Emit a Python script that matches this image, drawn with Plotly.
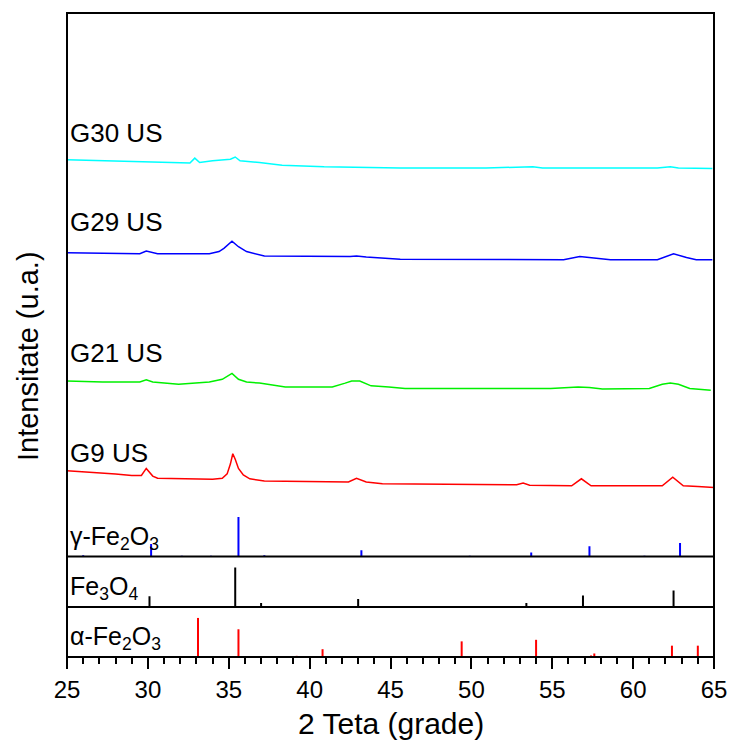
import plotly.graph_objects as go

# ---------------- data ----------------
# 2-theta values and intensities (a.u., stacked) of the measured patterns
g9_x = [25, 26, 27, 28, 29, 29.6, 29.9, 30.3, 30.6, 32, 34, 34.6, 34.9, 35.1, 35.25, 35.4, 35.6, 35.9, 36.3,
        37.2, 40.4, 42.4, 42.9, 43.5, 44.5, 48, 52.8, 53.2, 53.6, 56.2, 56.8, 57.4, 60, 61.8, 62.45, 63.1, 64, 65]
g9_y = [15.8, 15.6, 15.5, 15.2, 14.9, 14.9, 16.2, 14.8, 14.4, 14.3, 14.2, 14.4, 15.2, 17.0, 18.9, 17.9, 16.2, 15.0, 14.3,
        13.9, 13.7, 13.7, 14.4, 13.7, 13.4, 13.3, 13.2, 13.5, 13.1, 13.0, 14.3, 13.0, 13.0, 13.0, 14.6, 13.0, 12.9, 12.7]

g21_x = [25, 27.2, 29.5, 29.9, 30.3, 31.9, 33.8, 34.6, 35.2, 35.6, 36.1, 36.9, 38.5, 41.4, 42.2, 42.6, 43.1, 43.8,
         44.9, 45.9, 53, 54.9, 56.6, 57.3, 58.1, 61, 61.8, 62.3, 62.8, 63.5, 64.8]
g21_y = [32.3, 32.1, 32.1, 32.5, 32.1, 31.7, 32.1, 32.6, 33.7, 32.6, 32.1, 31.9, 31.2, 31.2, 31.9, 32.3, 32.3, 31.4,
         31.2, 30.9, 30.9, 30.9, 31.2, 31.1, 30.8, 30.9, 31.7, 31.9, 31.7, 30.9, 30.6]

g29_x = [25, 29.5, 29.9, 30.6, 33.8, 34.4, 34.7, 35.2, 35.6, 36.1, 37.2, 40.4, 42.5, 42.9, 43.5, 45.6, 50.9,
         55.7, 56.7, 57.5, 58.6, 61.5, 62.5, 63.3, 63.9, 64.9]
g29_y = [55.9, 55.7, 56.2, 55.7, 55.7, 56.1, 56.7, 58.0, 57.0, 56.1, 55.3, 55.2, 55.2, 55.3, 55.1, 54.7, 54.6,
         54.6, 55.2, 55.0, 54.6, 54.6, 55.7, 55.0, 54.6, 54.6]

g30_x = [25, 27.2, 29.8, 32.2, 32.6, 32.9, 33.2, 34.0, 35.1, 35.4, 35.7, 36.9, 38.3, 40.9, 45.6, 50.9, 53.8,
         54.4, 61.5, 62.3, 62.8, 64.9]
g30_y = [73.0, 72.8, 72.6, 72.3, 72.4, 73.3, 72.5, 72.8, 73.1, 73.5, 72.8, 72.5, 72.0, 71.7, 71.5, 71.5, 71.7,
         71.5, 71.5, 71.7, 71.5, 71.4]

sample_names = ["G30 US", "G29 US", "G21 US", "G9 US"]
sample_label_y = [78.0, 61.5, 37.5, 19.0]

# reference stick patterns: positions (2-theta) and relative intensities
gamma_pos = [26.0, 30.2, 32.1, 33.9, 35.6, 37.2, 43.2, 49.9, 53.7, 57.3, 60.7, 62.9]
gamma_int = [3, 32, 2, 2, 100, 3, 16, 2, 10, 26, 2, 34]

magn_pos = [30.1, 35.4, 37.0, 43.0, 53.4, 56.9, 62.5]
magn_int = [27, 100, 10, 20, 10, 29, 42]

alpha_pos = [33.1, 35.6, 39.2, 40.8, 43.5, 49.4, 54.0, 57.4, 57.6, 62.4, 64.0]
alpha_int = [100, 71, 3, 20, 2, 40, 44, 4, 9, 29, 29]

ref_labels = ["γ-Fe<sub>2</sub>O<sub>3</sub>", "Fe<sub>3</sub>O<sub>4</sub>", "α-Fe<sub>2</sub>O<sub>3</sub>"]

x_ticks = [25, 30, 35, 40, 45, 50, 55, 60, 65]

# ---------------- figure ----------------
FONT = "Liberation Sans, Arial, sans-serif"
fig = go.Figure()

samples = [(g30_x, g30_y, "#00FFFF"), (g29_x, g29_y, "#0000FF"),
           (g21_x, g21_y, "#00F000"), (g9_x, g9_y, "#FF0000")]
for xs, ys, col in samples:
    fig.add_trace(go.Scatter(x=xs, y=ys, mode="lines", line=dict(color=col, width=1.5),
                             showlegend=False, yaxis="y"))


def sticks(pos, inten):
    xs, ys = [], []
    for p, h in zip(pos, inten):
        xs += [p, p, None]
        ys += [0, h, None]
    return xs, ys


for (pos, inten, col, ax) in [(gamma_pos, gamma_int, "#0000FF", "y2"),
                              (magn_pos, magn_int, "#000000", "y3"),
                              (alpha_pos, alpha_int, "#FF0000", "y4")]:
    sx, sy = sticks(pos, inten)
    fig.add_trace(go.Scatter(x=sx, y=sy, mode="lines", line=dict(color=col, width=2),
                             showlegend=False, yaxis=ax))

d_a = 50 / 644
d_m = 100.5 / 644
d_g = 151 / 644

hide = dict(showticklabels=False, showgrid=False, zeroline=False, showline=False, ticks="",
            fixedrange=True, automargin=False)
fig.update_layout(
    width=729, height=744,
    margin=dict(l=67, r=15, t=13, b=87, autoexpand=False),
    paper_bgcolor="white", plot_bgcolor="white",
    font=dict(family=FONT, color="black"),
    xaxis=dict(range=[25, 65], anchor="y4", tickvals=x_ticks, ticks="outside", ticklen=11, tickwidth=2,
               tickcolor="black", showgrid=False, zeroline=False, showline=False, automargin=False,
               tickfont=dict(size=24, family=FONT, color="black"),
               minor=dict(dtick=1, ticks="outside", ticklen=6, tickwidth=1.5, tickcolor="black", showgrid=False)),
    yaxis=dict(domain=[d_m, 1], range=[0, 100], anchor="x", **hide),
    yaxis2=dict(domain=[d_m, d_g], range=[0, 128], anchor="x", **hide),
    yaxis3=dict(domain=[d_a, d_m], range=[0, 128], anchor="x", **hide),
    yaxis4=dict(domain=[0, d_a], range=[0, 128], anchor="x", **hide),
)

shapes = [dict(type="rect", xref="paper", yref="paper", x0=0, x1=1, y0=0, y1=1,
               line=dict(color="black", width=2)),
          dict(type="line", xref="paper", yref="paper", x0=0, x1=1, y0=d_a, y1=d_a,
               line=dict(color="black", width=2)),
          dict(type="line", xref="paper", yref="paper", x0=0, x1=1, y0=d_m, y1=d_m,
               line=dict(color="black", width=2))]
fig.update_layout(shapes=shapes)

ann = []
for name, yv in zip(sample_names, sample_label_y):
    ann.append(dict(x=25, y=yv, xref="x", yref="y", text=name, showarrow=False, xanchor="left",
                    yanchor="middle", xshift=1, font=dict(size=26, family=FONT, color="black")))
for lab, ax in zip(ref_labels, ["y2", "y3", "y4"]):
    ann.append(dict(x=25, y=0, xref="x", yref=ax, text=lab, showarrow=False, xanchor="left",
                    yanchor="bottom", xshift=1, yshift=1, font=dict(size=25, family=FONT, color="black")))
ann.append(dict(x=0.5, y=-87 / 644 + 0.003, xref="paper", yref="paper", text="2 Teta (grade)", showarrow=False,
                xanchor="center", yanchor="bottom", font=dict(size=30, family=FONT, color="black")))
ann.append(dict(x=-39 / 647, y=(657 - 356) / 644, xref="paper", yref="paper", text="Intensitate (u.a.)",
                showarrow=False, textangle=-90, xanchor="center", yanchor="middle",
                font=dict(size=29, family=FONT, color="black")))
fig.update_layout(annotations=ann)

fig.write_html("out.html")
